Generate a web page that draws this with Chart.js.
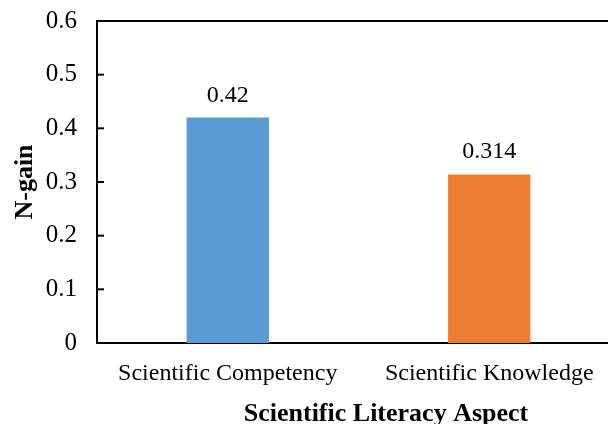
<!DOCTYPE html>
<html>
<head>
<meta charset="utf-8">
<script src="https://cdn.jsdelivr.net/npm/chart.js@4/dist/chart.umd.min.js"></script>
<style>
  html, body { margin: 0; padding: 0; background: #fff; overflow: hidden; }
  #wrap { width: 624px; height: 424px; }
</style>
</head>
<body>
<div id="wrap"><canvas id="chart" width="624" height="424"></canvas></div>
<script>
// dados do gráfico
const categories = ['Scientific Competency', 'Scientific Knowledge'];
const nGain = [0.42, 0.314];
const valueLabels = ['0.42', '0.314'];
const barColors = ['#5b9bd5', '#ed7d31'];

const serif = '"Liberation Serif", "Times New Roman", serif';

// desenha moldura superior, ticks internos, rótulos e títulos
const extras = {
    id: 'extras',
    afterDraw(chart) {
        const ctx = chart.ctx;
        const area = chart.chartArea;
        const yScale = chart.scales.y;
        ctx.save();
        ctx.strokeStyle = '#000';
        ctx.lineWidth = 2;
        ctx.beginPath();
        ctx.moveTo(area.left - 1, area.top);
        ctx.lineTo(area.right, area.top);
        ctx.stroke();

        // ticks para dentro
        yScale.ticks.forEach(t => {
            const py = yScale.getPixelForValue(t.value);
            ctx.beginPath();
            ctx.moveTo(area.left, py);
            ctx.lineTo(area.left + 7, py);
            ctx.stroke();
        });

        // valores acima das barras
        ctx.fillStyle = '#000';
        ctx.font = '24px ' + serif;
        ctx.textAlign = 'center';
        ctx.textBaseline = 'alphabetic';
        chart.getDatasetMeta(0).data.forEach((bar, i) => {
            ctx.fillText(valueLabels[i], bar.x, bar.y - 16);
        });

        // títulos dos eixos
        ctx.font = 'bold 26px ' + serif;
        ctx.fillText('Scientific Literacy Aspect', 386, 421);
        ctx.translate(32, 182);
        ctx.rotate(-Math.PI / 2);
        ctx.fillText('N-gain', 0, 0);
        ctx.restore();
    }
};

const ctx = document.getElementById('chart').getContext('2d');
const chart = new Chart(ctx, {
    type: 'bar',
    data: {
        labels: categories,
        datasets: [{
            data: nGain,
            backgroundColor: barColors,
            borderWidth: 0,
            categoryPercentage: 1,
            barPercentage: 0.315
        }]
    },
    options: {
        responsive: false,
        animation: false,
        layout: { padding: { top: 21, left: 0, right: 4, bottom: 0 } },
        plugins: {
            legend: { display: false },
            tooltip: { enabled: false }
        },
        scales: {
            x: {
                grid: { display: false, drawTicks: false },
                border: { color: '#000', width: 2 },
                ticks: {
                    color: '#000',
                    padding: 16,
                    font: { family: serif, size: 24 },
                    maxRotation: 0
                },
                afterFit(scale) { scale.height = 81; }
            },
            y: {
                min: 0,
                max: 0.6,
                grid: { display: false, drawTicks: false },
                border: { color: '#000', width: 2 },
                ticks: {
                    stepSize: 0.1,
                    color: '#000',
                    padding: 20,
                    font: { family: serif, size: 25 },
                    callback: v => Number(v.toFixed(1)).toString()
                },
                afterFit(scale) {
                    scale.width = 97;
                    scale.paddingTop = 0;
                    scale.paddingBottom = 0;
                }
            }
        }
    },
    plugins: [extras]
});
</script>
</body>
</html>
